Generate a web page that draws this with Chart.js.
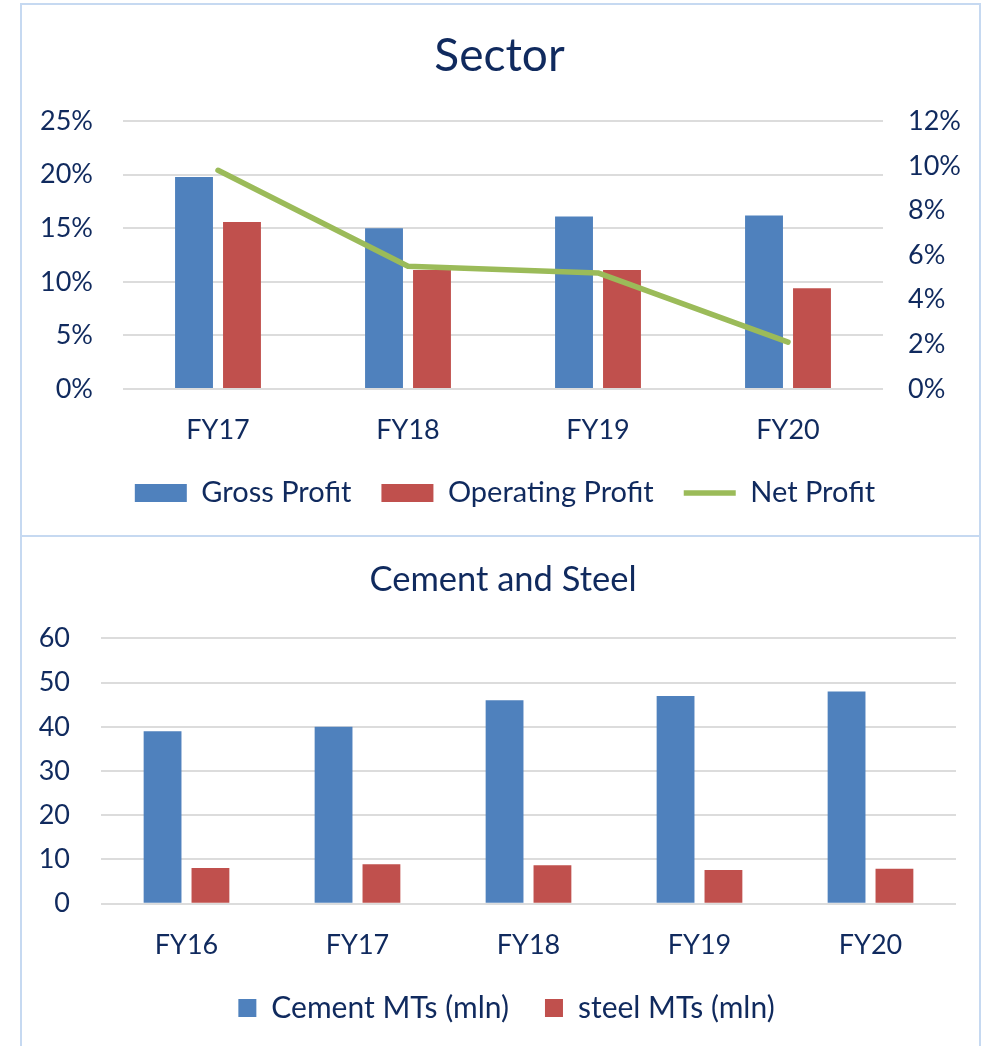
<!DOCTYPE html>
<html>
<head>
  <title>Sector / Cement and Steel</title>
  <script src="https://cdn.jsdelivr.net/npm/chart.js"></script>
  <style>
    body {
      margin: 0;
      background: #ffffff;
      font-family: Lato, Arial;
    }
    .frame {
      position: absolute;
      box-sizing: border-box;
      border: 2px solid #c6d9f1;
    }
    canvas {
      position: absolute;
      left: 0;
    }
  </style>
</head>
<body>
  <div class="frame" style="left:20px; top:3px; width:961px; height:534px;"></div>
  <div class="frame" style="left:20px; top:535px; width:961px; height:530px;"></div>
  <canvas id="sectorChart" width="987" height="536" style="top:0px;"></canvas>
  <canvas id="cementChart" width="987" height="510" style="top:536px;"></canvas>

  <script>
    // top chart
    const sectorYears = ["FY17", "FY18", "FY19", "FY20"];
    const grossProfit = [19.8, 15.0, 16.1, 16.2];
    const operatingProfit = [15.6, 11.1, 11.1, 9.4];
    const netProfit = [9.8, 5.5, 5.2, 2.1];

    // bottom chart
    const cementYears = ["FY16", "FY17", "FY18", "FY19", "FY20"];
    const cementMts = [39, 40, 46, 47, 48];
    const steelMts = [8.1, 8.9, 8.7, 7.6, 7.9];

    const navy = "#102a5e";
    const blue = "#4f81bd";
    const red = "#c0504d";
    const green = "#9bbb59";
    const gridColor = "#dcdcdc";
    const font = "Lato";

    function fixWidth(w) {
      return function (scale) { scale.width = w; };
    }
    function fixHeight(h) {
      return function (scale) { scale.height = h; };
    }

    // nudge title / legend sideways, the way the original is laid out
    const shiftBoxes = {
      id: "shiftBoxes",
      afterLayout(chart, args, opts) {
        if (opts.legend && chart.legend) {
          chart.legend.left += opts.legend;
          chart.legend.right += opts.legend;
        }
        if (opts.title && chart.titleBlock) {
          chart.titleBlock.left += opts.title;
          chart.titleBlock.right += opts.title;
        }
      }
    };

    new Chart(document.getElementById("sectorChart"), {
      type: "bar",
      plugins: [shiftBoxes],
      data: {
        labels: sectorYears,
        datasets: [
          {
            label: "Gross Profit",
            data: grossProfit,
            backgroundColor: blue,
            yAxisID: "y",
            order: 1,
            categoryPercentage: 0.505,
            barPercentage: 0.79
          },
          {
            label: "Operating Profit",
            data: operatingProfit,
            backgroundColor: red,
            yAxisID: "y",
            order: 1,
            categoryPercentage: 0.505,
            barPercentage: 0.79
          },
          {
            type: "line",
            label: "Net Profit",
            data: netProfit,
            borderColor: green,
            backgroundColor: green,
            borderWidth: 5.5,
            borderCapStyle: "round",
            borderJoinStyle: "round",
            pointRadius: 0,
            pointStyle: "line",
            tension: 0,
            yAxisID: "y1",
            order: 0
          }
        ]
      },
      options: {
        responsive: false,
        animation: false,
        layout: { padding: { top: 0, bottom: 18.5, left: 0, right: 0 } },
        plugins: {
          tooltip: { enabled: false },
          shiftBoxes: { legend: 11.5, title: 6 },
          title: {
            display: true,
            text: "Sector",
            color: navy,
            font: { family: font, size: 46, weight: "normal" },
            padding: { top: 28.5, bottom: 37.5 }
          },
          legend: {
            position: "bottom",
            labels: {
              color: navy,
              font: { family: font, size: 29 },
              usePointStyle: true,
              pointStyleWidth: 52,
              boxHeight: 18,
              padding: 30,
              sort: (a, b) => a.datasetIndex - b.datasetIndex,
              generateLabels(chart) {
                const items = Chart.defaults.plugins.legend.labels.generateLabels(chart);
                items.forEach(it => {
                  const ds = chart.data.datasets[it.datasetIndex];
                  it.pointStyle = ds.type === "line" ? "line" : "rect";
                  if (ds.type !== "line") it.lineWidth = 0;
                });
                return items;
              }
            }
          }
        },
        scales: {
          x: {
            grid: { display: false, drawTicks: false },
            border: { display: false },
            ticks: { color: navy, font: { family: font, size: 27 }, padding: 25 },
            afterFit: fixHeight(59.5)
          },
          y: {
            position: "left",
            min: 0,
            max: 25,
            ticks: {
              stepSize: 5,
              color: navy,
              font: { family: font, size: 27 },
              padding: 30,
              callback: v => v + "%"
            },
            grid: { color: gridColor, lineWidth: 2, drawTicks: false },
            border: { display: false },
            afterFit: fixWidth(123)
          },
          y1: {
            position: "right",
            min: 0,
            max: 12,
            ticks: {
              stepSize: 2,
              color: navy,
              font: { family: font, size: 27 },
              padding: 25,
              callback: v => v + "%"
            },
            grid: { display: false, drawTicks: false },
            border: { display: false },
            afterFit: fixWidth(104)
          }
        }
      }
    });

    new Chart(document.getElementById("cementChart"), {
      type: "bar",
      plugins: [shiftBoxes],
      data: {
        labels: cementYears,
        datasets: [
          {
            label: "Cement MTs (mln)",
            data: cementMts,
            backgroundColor: blue,
            categoryPercentage: 0.56,
            barPercentage: 0.79
          },
          {
            label: "steel MTs (mln)",
            data: steelMts,
            backgroundColor: red,
            categoryPercentage: 0.56,
            barPercentage: 0.79
          }
        ]
      },
      options: {
        responsive: false,
        animation: false,
        layout: { padding: { top: 0, bottom: 13, left: 0, right: 31 } },
        plugins: {
          tooltip: { enabled: false },
          shiftBoxes: { legend: 28.5, title: 25 },
          title: {
            display: true,
            text: "Cement and Steel",
            color: navy,
            font: { family: font, size: 34.5, weight: "normal" },
            padding: { top: 23, bottom: 38 }
          },
          legend: {
            position: "bottom",
            labels: {
              color: navy,
              font: { family: font, size: 30 },
              boxWidth: 18,
              boxHeight: 18,
              padding: 36
            }
          }
        },
        scales: {
          x: {
            grid: { display: false, drawTicks: false },
            border: { display: false },
            ticks: { color: navy, font: { family: font, size: 27 }, padding: 25 },
            afterFit: fixHeight(53.3)
          },
          y: {
            min: 0,
            max: 60,
            ticks: {
              stepSize: 10,
              color: navy,
              font: { family: font, size: 27 },
              padding: 31
            },
            grid: { color: gridColor, lineWidth: 2, drawTicks: false },
            border: { display: false },
            afterFit: fixWidth(101)
          }
        }
      }
    });
  </script>
</body>
</html>
